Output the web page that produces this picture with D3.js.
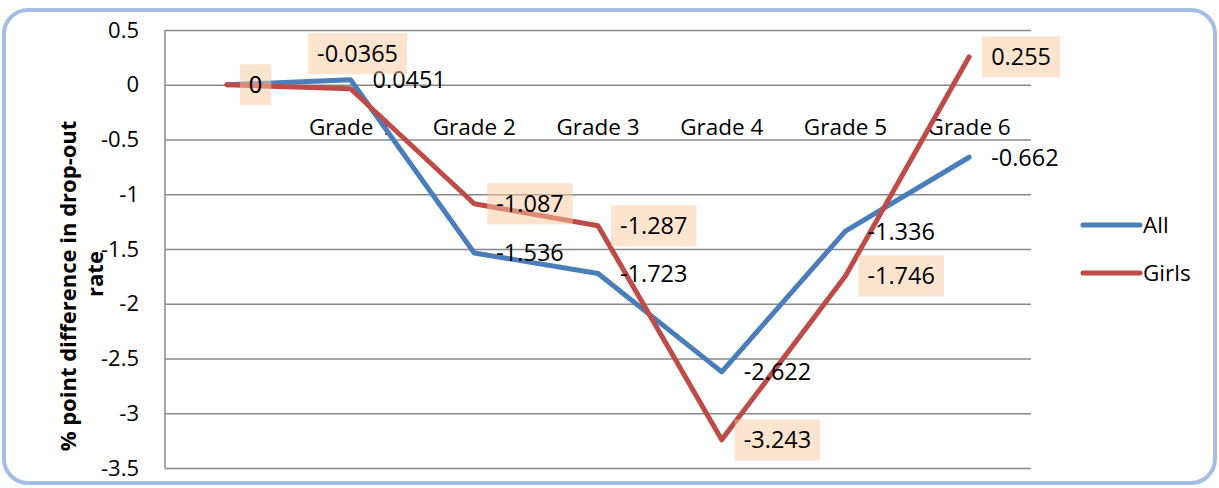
<!DOCTYPE html>
<html>
<head>
<meta charset="utf-8">
<script src="https://cdn.jsdelivr.net/npm/d3@7"></script>
<style>
  body { margin: 0; background: #fff; }
  svg text { font-family: "Open Sans", sans-serif; fill: #000; }
</style>
</head>
<body>
<div id="chart"></div>
<script>
var svgWidth = 1219;
var svgHeight = 488;

// data
var categories = ["", "Grade 1", "Grade 2", "Grade 3", "Grade 4", "Grade 5", "Grade 6"];
var allValues = [0, 0.0451, -1.536, -1.723, -2.622, -1.336, -0.662];
var girlsValues = [0, -0.0365, -1.087, -1.287, -3.243, -1.746, 0.255];
var yTicks = [0.5, 0, -0.5, -1, -1.5, -2, -2.5, -3, -3.5];
var seriesNames = ["All", "Girls"];

// where each girls label sits relative to its point
var girlsLabelPlace = ["right", "above", "right", "right", "right", "right", "right"];

var plot = { left: 165, right: 1031, top: 30, bottom: 468 };

var svg = d3.select("#chart")
  .append("svg")
  .attr("width", svgWidth)
  .attr("height", svgHeight);

// outer rounded frame
svg.append("rect")
  .attr("x", 4).attr("y", 10)
  .attr("width", 1211).attr("height", 473)
  .attr("rx", 24)
  .attr("fill", "#fff")
  .attr("stroke", "#a3bde6")
  .attr("stroke-width", 4);

var xScale = d3.scaleBand()
  .domain(categories)
  .range([plot.left, plot.right]);

var yScale = d3.scaleLinear()
  .domain([-3.5, 0.5])
  .range([plot.bottom, plot.top]);

var cx = d => xScale(d) + xScale.bandwidth() / 2;

// gridlines
var grid = svg.append("g")
  .attr("transform", `translate(${plot.left},0)`)
  .call(d3.axisLeft(yScale).tickValues(yTicks).tickSize(-(plot.right - plot.left)).tickFormat(""));
grid.select(".domain").remove();
grid.selectAll("line").attr("stroke", "#888").attr("stroke-width", 1.5);

// left axis line
svg.append("line")
  .attr("x1", plot.left).attr("x2", plot.left)
  .attr("y1", plot.top).attr("y2", plot.bottom)
  .attr("stroke", "#888").attr("stroke-width", 1.5);

// y tick labels
var yAxis = svg.append("g")
  .attr("transform", `translate(${plot.left},0)`)
  .call(d3.axisLeft(yScale).tickValues(yTicks).tickSize(0).tickPadding(26).tickFormat(d => String(d)));
yAxis.select(".domain").remove();
yAxis.selectAll("text")
  .style("font-family", "'Open Sans', sans-serif")
  .style("font-size", "22px")
  .attr("fill", "#000");

// category labels under the zero line
var xAxis = svg.append("g")
  .attr("transform", `translate(0,${yScale(0)})`)
  .call(d3.axisBottom(xScale).tickSize(0));
xAxis.select(".domain").remove();
xAxis.selectAll("text")
  .attr("y", 50)
  .attr("dy", 0)
  .style("font-family", "'Open Sans', sans-serif")
  .style("font-size", "22.5px")
  .attr("fill", "#000");

// y axis title (two lines, like the original wrap)
svg.append("text")
  .attr("transform", "translate(76,286) rotate(-90)")
  .attr("text-anchor", "middle")
  .style("font-size", "22px")
  .style("font-weight", "bold")
  .text("% point difference in drop-out");
svg.append("text")
  .attr("transform", "translate(103,274) rotate(-90)")
  .attr("text-anchor", "middle")
  .style("font-size", "22px")
  .style("font-weight", "bold")
  .text("rate");

// lines
var line = d3.line()
  .x((d, i) => cx(categories[i]))
  .y(d => yScale(d));

var colors = { All: "#4a7ebb", Girls: "#be4b48" };

svg.append("path")
  .datum(allValues)
  .attr("d", line)
  .attr("fill", "none")
  .attr("stroke", colors.All)
  .attr("stroke-width", 5)
  .attr("stroke-linejoin", "round")
  .attr("stroke-linecap", "round");

svg.append("path")
  .datum(girlsValues)
  .attr("d", line)
  .attr("fill", "none")
  .attr("stroke", colors.Girls)
  .attr("stroke-width", 5)
  .attr("stroke-linejoin", "round")
  .attr("stroke-linecap", "round");

// data labels for All (plain, to the right)
svg.selectAll(".allLabel")
  .data(allValues)
  .enter()
  .append("text")
  .attr("class", "allLabel")
  .attr("x", (d, i) => cx(categories[i]) + 22)
  .attr("y", d => yScale(d))
  .attr("dy", "0.36em")
  .style("font-size", "23.5px")
  .text(d => String(d));

// data labels for Girls (peach box)
var girlsLabels = svg.selectAll(".girlsLabel")
  .data(girlsValues)
  .enter()
  .append("g")
  .attr("class", "girlsLabel");

girlsLabels.each(function(d, i) {
  var g = d3.select(this);
  var px = cx(categories[i]);
  var py = yScale(d);
  var box = g.append("rect");
  var t = g.append("text")
    .attr("dy", "0.36em")
    .style("font-size", "23.5px")
    .text(String(d));
  var w = t.node().getComputedTextLength();
  var tx, ty;
  if (girlsLabelPlace[i] === "above") {
    tx = px + 7 - w / 2;
    ty = py - 35;
  } else {
    tx = px + 22;
    ty = py;
  }
  t.attr("x", tx).attr("y", ty);
  box.attr("x", tx - 9).attr("y", ty - 20.5)
    .attr("width", w + 18).attr("height", 41)
    .attr("fill", "#f9c9a0")
    .attr("fill-opacity", 0.5);
});

// legend
var legend = svg.selectAll(".legendItem")
  .data(seriesNames)
  .enter()
  .append("g")
  .attr("class", "legendItem")
  .attr("transform", (d, i) => `translate(1083,${225 + i * 48})`);

legend.append("line")
  .attr("x1", 0).attr("x2", 57)
  .attr("stroke", d => colors[d])
  .attr("stroke-width", 5)
  .attr("stroke-linecap", "round");

legend.append("text")
  .attr("x", 60)
  .attr("dy", "0.36em")
  .style("font-size", "22.5px")
  .text(d => d);
</script>
</body>
</html>
